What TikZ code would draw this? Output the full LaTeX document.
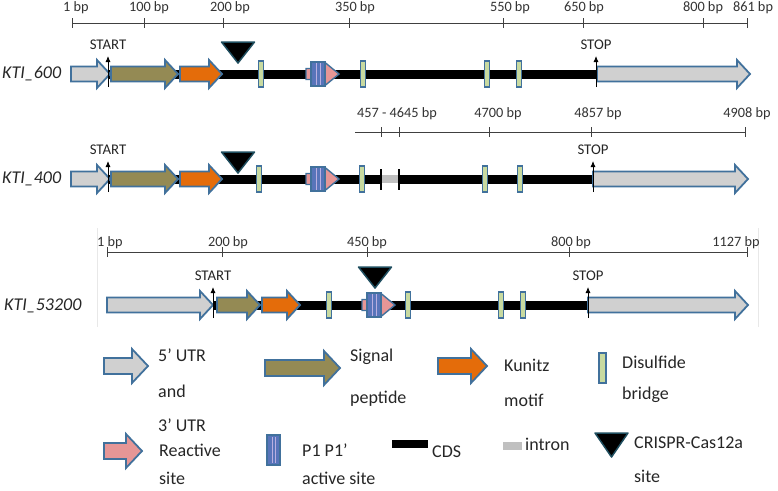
\documentclass[tikz,border=0pt]{standalone}
\usepackage{fontspec}
\setmainfont{Carlito}
\usetikzlibrary{arrows.meta}
\usepackage{xcolor}
\definecolor{EdgeBlue}{RGB}{65,113,156}
\definecolor{UtrGray}{RGB}{208,208,208}
\definecolor{SigOlive}{RGB}{148,138,84}
\definecolor{KunOrange}{RGB}{228,108,10}
\definecolor{ReactPink}{RGB}{230,150,150}
\definecolor{DsGreen}{RGB}{200,218,160}
\definecolor{P1Blue}{RGB}{88,116,186}
\definecolor{P1Stripe}{RGB}{185,175,225}
\definecolor{IntronGray}{RGB}{192,192,192}
\definecolor{CutEdge}{RGB}{31,78,95}
\tikzset{
  blk/.style={draw=EdgeBlue, line width=1.8pt, line join=miter},
  utr/.style={blk, fill=UtrGray},
  signal/.style={blk, fill=SigOlive},
  kunitz/.style={blk, fill=KunOrange},
  react/.style={blk, fill=ReactPink},
  smallreact/.style={blk, fill=ReactPink, line width=1.4pt},
  dsbar/.style={draw=EdgeBlue, fill=DsGreen, line width=1.3pt},
  p1bar/.style={draw=EdgeBlue, fill=P1Blue, line width=1.2pt},
  p1stripe/.style={draw=P1Stripe, line width=0.9pt},
  cutsite/.style={draw=CutEdge, fill=black, line width=1.5pt, line join=round},
  cds/.style={line width=9pt, black},
  intron/.style={line width=8pt, IntronGray},
  exonend/.style={line width=1.6pt, black},
  ruler/.style={line width=0.9pt, black!75},
  bplabel/.style={font=\fontsize{14.3}{17}\selectfont, text=black!80, inner sep=0pt},
  genename/.style={font=\fontsize{18}{21}\selectfont\itshape, anchor=west, text=black!85, inner sep=0pt},
  marklabel/.style={font=\fontsize{14.8}{17}\selectfont, text=black!85, inner sep=0pt},
  codon/.style={-{Latex[length=6pt,width=5pt]}, line width=0.8pt},
  legtext/.style={font=\fontsize{18}{21}\selectfont, anchor=west, text=black!85, inner sep=0pt}
}
% block arrow sizes (changed for the legend)
\newcommand{\bodyh}{7.5}
\newcommand{\headh}{14}
\newcommand{\headl}{13}
% style, x start, x end, y
\newcommand{\genearrow}[4]{%
  \draw[#1] (#2,#4-\bodyh) -- (#3-\headl,#4-\bodyh) -- (#3-\headl,#4-\headh)
    -- (#3,#4) -- (#3-\headl,#4+\headh) -- (#3-\headl,#4+\bodyh)
    -- (#2,#4+\bodyh) -- cycle;}
\newcommand{\disulf}[2]{\draw[dsbar] (#1-2.5,#2-13) rectangle (#1+2.5,#2+13);}
% reactive site with P1 P1' block
\newcommand{\reactsite}[2]{%
  \draw[smallreact] (#1,#2-5.5) -- (#1+19,#2-5.5) -- (#1+19,#2-11.5) -- (#1+33,#2)
    -- (#1+19,#2+11.5) -- (#1+19,#2+5.5) -- (#1,#2+5.5) -- cycle;
  \draw[p1bar] (#1+5,#2-12) rectangle (#1+19,#2+12);
  \draw[p1stripe] (#1+10,#2-11) -- (#1+10,#2+11);
  \draw[p1stripe] (#1+14,#2-11) -- (#1+14,#2+11);}
\newcommand{\crispr}[2]{\draw[cutsite] (#1-16.5,#2) -- (#1+16.5,#2) -- (#1,#2+21) -- cycle;}
% x, gene y, name, text
\newcommand{\codonmark}[4]{%
  \draw[codon] (#1,#2+13) -- (#1,#2-18);
  \node[marklabel] (#3) at (#1,#2-29) {#4};}

\begin{document}
\begin{tikzpicture}[x=1pt, y=-1pt]
  \useasboundingbox (0,0) rectangle (778,490);

  % KTI_600
  \draw[ruler] (72,23) -- (747,23);
  \foreach \x in {72,144,223,349,503,583,703,747}
    \draw[ruler] (\x,18) -- (\x,28);
  \foreach \x/\t [count=\i] in {76/1 bp, 149/100 bp, 230/200 bp, 355/350 bp,
      510/550 bp, 584/650 bp, 703/800 bp, 753/861 bp}
    \node[bplabel] (ra\i) at (\x,8) {\t};
  \node[genename] (kti600) at (2,74) {KTI\_600};
  \draw[cds] (108,74) -- (596,74);
  \genearrow{utr}{71}{110}{74}
  \genearrow{signal}{111}{178}{74}
  \genearrow{kunitz}{180}{222}{74}
  \genearrow{utr}{597}{750}{74}
  \disulf{261}{74} \disulf{363}{74} \disulf{487}{74} \disulf{519}{74}
  \reactsite{306}{74}
  \crispr{238}{42}
  \codonmark{108}{74}{starta}{START}
  \codonmark{596}{74}{stopa}{STOP}

  % KTI_400
  \draw[ruler] (355,132) -- (745,132);
  \foreach \x in {381,399,489,591,745}
    \draw[ruler] (\x,127) -- (\x,137);
  \foreach \x/\t [count=\i] in {397/457 - 4645 bp, 498/4700 bp, 598/4857 bp, 747/4908 bp}
    \node[bplabel] (rb\i) at (\x,114) {\t};
  \node[genename] (kti400) at (2,179) {KTI\_400};
  \draw[cds] (108,179) -- (381,179);
  \draw[intron] (381,179) -- (399,179);
  \draw[cds] (399,179) -- (593,179);
  \draw[exonend] (381,169) -- (381,190);
  \draw[exonend] (399,169) -- (399,190);
  \genearrow{utr}{71}{110}{179}
  \genearrow{signal}{111}{178}{179}
  \genearrow{kunitz}{180}{222}{179}
  \genearrow{utr}{593}{748}{179}
  \disulf{259}{179} \disulf{362}{179} \disulf{485}{179} \disulf{520}{179}
  \reactsite{306}{179}
  \crispr{238}{152}
  \codonmark{108}{179}{startb}{START}
  \codonmark{593}{179}{stopb}{STOP}

  % KTI_53200
  \draw[gray!18, line width=0.6pt] (97,228) -- (97,327);
  \draw[gray!18, line width=0.6pt] (758,228) -- (758,327);
  \draw[ruler] (107,252) -- (747,252);
  \foreach \x in {107,222,367,569,747}
    \draw[ruler] (\x,247) -- (\x,257);
  \foreach \x/\t [count=\i] in {110/1 bp, 228/200 bp, 367/450 bp, 571/800 bp, 736/1127 bp}
    \node[bplabel] (rc\i) at (\x,243) {\t};
  \node[genename] (kti53200) at (4,306) {KTI\_53200};
  \draw[cds] (213,305) -- (588,305);
  \genearrow{utr}{107}{213}{305}
  \genearrow{signal}{217}{260}{305}
  \genearrow{kunitz}{262}{300}{305}
  \genearrow{utr}{588}{748}{305}
  \disulf{329}{305} \disulf{408}{305} \disulf{501}{305} \disulf{523}{305}
  \reactsite{362}{305}
  \crispr{375}{267}
  \codonmark{213}{305}{startc}{START}
  \codonmark{588}{305}{stopc}{STOP}

  % legend
  \renewcommand{\bodyh}{8}
  \renewcommand{\headh}{17}
  \renewcommand{\headl}{16}
  \genearrow{utr}{104}{148}{366}
  \node[legtext] (lutr) at (158,355) {5’ UTR};
  \node[legtext] (land) at (158,391) {and};
  \node[legtext] (lutrb) at (158,425) {3’ UTR};
  \genearrow{signal}{265}{340}{368}
  \node[legtext] (lsig) at (350,357) {Signal};
  \node[legtext] (lsigb) at (350,399) {peptide};
  \genearrow{kunitz}{438}{487}{366}
  \node[legtext] (lkun) at (504,365) {Kunitz};
  \node[legtext] (lkunb) at (504,400) {motif};
  \draw[dsbar] (599,353) rectangle (606,383);
  \node[legtext] (lds) at (622,362) {Disulfide};
  \node[legtext] (ldsb) at (622,395) {bridge};

  \genearrow{react}{104}{142}{451}
  \node[legtext] (lre) at (159,450) {Reactive};
  \node[legtext] (lreb) at (159,478) {site};
  \draw[p1bar] (267,435) rectangle (280,465);
  \draw[p1stripe] (272,437) -- (272,463);
  \draw[p1stripe] (275.5,437) -- (275.5,463);
  \node[legtext] (lp1) at (302,450) {P1 P1’};
  \node[legtext] (lp1b) at (302,478) {active site};
  \fill[black] (392,440) rectangle (428,448);
  \node[legtext] (lcds) at (432,452) {CDS};
  \fill[IntronGray] (503,442) rectangle (522,450);
  \node[legtext] (lint) at (525,444) {intron};
  \draw[cutsite] (595,433) -- (628,433) -- (611.5,457) -- cycle;
  \node[legtext] (lcut) at (634,443) {CRISPR-Cas12a};
  \node[legtext] (lcutb) at (634,476) {site};
\end{tikzpicture}
\end{document}
